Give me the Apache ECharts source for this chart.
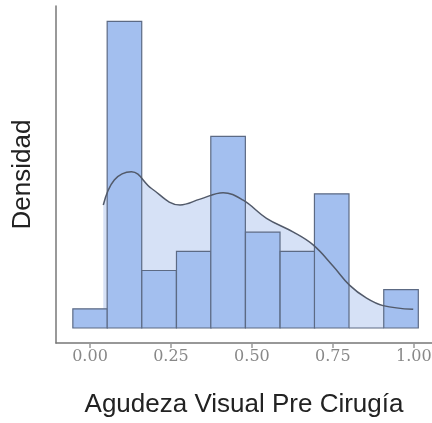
<!DOCTYPE html>
<html><head><meta charset="utf-8">
<script src="https://cdn.jsdelivr.net/npm/echarts@6/dist/echarts.min.js"></script>
<style>html,body{margin:0;padding:0;background:#fff}#c{width:432px;height:423px}</style>
</head><body><div id="c"></div>
<script>
// Histogram bins (left edge), width, density
const binStart = [-0.053, 0.053, 0.160, 0.267, 0.373, 0.480, 0.587, 0.693, 0.800, 0.907];
const binWidth = 0.1067;
const density = [0.18, 2.88, 0.54, 0.72, 1.80, 0.90, 0.72, 1.26, 0, 0.36];
// KDE curve
const kdeX = [0.041, 0.075, 0.128, 0.19, 0.278, 0.34, 0.411, 0.473, 0.545, 0.628, 0.689, 0.751, 0.802, 0.854, 0.905, 0.998];
const kdeY = [1.155, 1.39, 1.468, 1.31, 1.155, 1.21, 1.271, 1.20, 1.03, 0.90, 0.78, 0.58, 0.40, 0.28, 0.21, 0.175];
const tickValues = [0, 0.25, 0.5, 0.75, 1.0];
const tickLabels = ['0.00', '0.25', '0.50', '0.75', '1.00'];

const barData = binStart.map((s, i) => [s, s + binWidth, density[i]]);
const kdeData = kdeX.map((x, i) => [x, kdeY[i]]);

const chart = echarts.init(document.getElementById('c'));
chart.setOption({
  animation: false,
  grid: {left: 56, top: 6, width: 376, height: 337, containLabel: false, outerBoundsMode: 'none'},
  xAxis: {
    type: 'value', min: -0.105, max: 1.056,
    name: 'Agudeza Visual Pre Cirugía', nameLocation: 'middle', nameGap: 49,
    nameTextStyle: {fontFamily: 'Liberation Sans', fontSize: 26, color: '#222'},
    axisLine: {show: true, onZero: false, lineStyle: {color: '#777', width: 1.5}},
    axisTick: {show: true, customValues: tickValues, length: 5, lineStyle: {color: '#999', width: 1.5}},
    axisLabel: {customValues: tickValues, formatter: v => tickLabels[tickValues.findIndex(t => Math.abs(t - v) < 1e-6)],
      fontFamily: 'DejaVu Serif', fontSize: 16, color: '#888', margin: 6},
    splitLine: {show: false}
  },
  yAxis: {
    type: 'value', min: -0.141, max: 3.024,
    name: 'Densidad', nameLocation: 'middle', nameGap: 20, nameRotate: 90,
    nameTextStyle: {fontFamily: 'Liberation Sans', fontSize: 26, color: '#222'},
    axisLine: {show: true, onZero: false, lineStyle: {color: '#777', width: 1.5}},
    axisTick: {show: false}, axisLabel: {show: false}, splitLine: {show: false}
  },
  series: [
    {type: 'line', data: kdeData, smooth: 0.4, symbol: 'none', z: 1,
     lineStyle: {opacity: 0}, areaStyle: {color: '#d6e1f6', opacity: 1}},
    {type: 'custom', z: 2, data: barData,
     renderItem: function (params, api) {
       const p0 = api.coord([api.value(0), 0]);
       const p1 = api.coord([api.value(1), api.value(2)]);
       return {type: 'rect', shape: {x: p0[0], y: p1[1], width: p1[0] - p0[0], height: p0[1] - p1[1]},
         style: {fill: '#a3bfef', stroke: '#5c6a84', lineWidth: 1.2}};
     }},
    {type: 'line', data: kdeData, smooth: 0.4, symbol: 'none', z: 3,
     lineStyle: {color: '#525a6a', width: 1.5}}
  ]
});
</script></body></html>
